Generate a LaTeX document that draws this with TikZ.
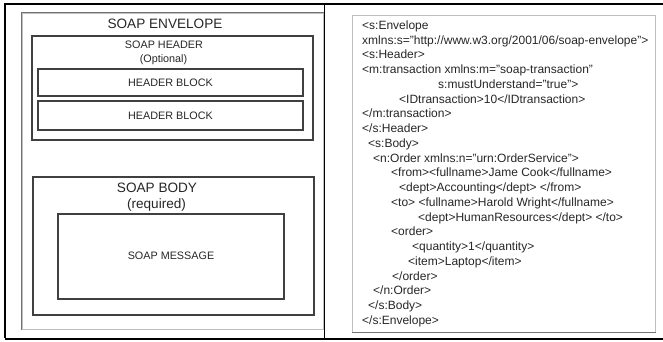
\documentclass[tikz,border=0pt]{standalone}
\usepackage{fontspec}
\setmainfont{Liberation Sans}

\definecolor{boxline}{rgb}{0.25,0.25,0.25}
\definecolor{paneldark}{rgb}{0.45,0.45,0.45}
\definecolor{panellight}{rgb}{0.75,0.75,0.75}
\definecolor{inktext}{rgb}{0.15,0.15,0.15}

\tikzset{
  panel/.style={draw=panellight,line width=1pt,inner sep=0pt},
  block/.style={draw=boxline,line width=1.4pt,inner sep=0pt},
  bigtxt/.style={text=inktext,inner sep=0pt,font=\fontsize{13.6}{15}\selectfont},
  smalltxt/.style={text=inktext,inner sep=0pt,font=\fontsize{10.8}{12}\selectfont}
}

\begin{document}
\begin{tikzpicture}[x=1pt,y=-1pt]
\useasboundingbox (0,0) rectangle (663,341);

% outer frame of the two cells
\draw [line width=2pt] (5,338) -- (5,4) -- (663,4);
\draw [line width=2pt] (5,339) -- (663,339);
\draw [line width=1pt] (324,4) -- (324,338);

% left cell: message structure
\node [panel,minimum width=301pt,minimum height=316pt] (envelope) at (172.5,171) {};
\draw [paneldark,line width=1pt] (envelope.south west) -- (envelope.north west) -- (envelope.north east);
\node [bigtxt] (envtitle) at (165,24) {SOAP ENVELOPE};

\node [block,minimum width=281pt,minimum height=104pt] (header) at (172.5,88) {};
\node [smalltxt] (hdrtitle) at (164,45) {SOAP HEADER};
\node [smalltxt] (hdrnote) at (163.5,60) {(Optional)};
\node [block,minimum width=265pt,minimum height=27pt] (hblock1) at (170.5,82.5) {};
\node [smalltxt] at (hblock1) {HEADER BLOCK};
\node [block,minimum width=265pt,minimum height=29pt] (hblock2) at (170.5,115.5) {};
\node [smalltxt] at (hblock2) {HEADER BLOCK};

\node [block,minimum width=281pt,minimum height=138pt] (body) at (173.5,246) {};
\node [bigtxt] (bodytitle) at (157,188) {SOAP BODY};
\node [bigtxt] (bodynote) at (156.5,205) {(required)};
\node [block,minimum width=226pt,minimum height=85pt] (message) at (171,256.5) {};
\node [smalltxt] (msgtxt) at (171,256) {SOAP MESSAGE};

% right cell: the xml listing
\node [panel,minimum width=303pt,minimum height=317pt] (xmlbox) at (503.5,173.5) {};
\draw [paneldark,line width=1pt] (xmlbox.south west) -- (xmlbox.south east);
\node [anchor=north west,inner sep=0pt,align=left,text=inktext,
       font=\fontsize{12}{14.75}\selectfont] (xml) at (362,20.5) {%
<s:Envelope\\
xmlns:s="http://www.w3.org/2001/06/soap-envelope">\\
<s:Header>\\
<m:transaction xmlns:m="soap-transaction"\\
\hspace*{76pt}s:mustUnderstand="true">\\
\hspace*{37pt}<IDtransaction>10</IDtransaction>\\
</m:transaction>\\
</s:Header>\\
\hspace*{6pt}<s:Body>\\
\hspace*{11pt}<n:Order xmlns:n="urn:OrderService">\\
\hspace*{29pt}<from><fullname>Jame Cook</fullname>\\
\hspace*{37pt}<dept>Accounting</dept> </from>\\
\hspace*{29pt}<to> <fullname>Harold Wright</fullname>\\
\hspace*{56pt}<dept>HumanResources</dept> </to>\\
\hspace*{29pt}<order>\\
\hspace*{50pt}<quantity>1</quantity>\\
\hspace*{46pt}<item>Laptop</item>\\
\hspace*{30pt}</order>\\
\hspace*{11pt}</n:Order>\\
\hspace*{6pt}</s:Body>\\
</s:Envelope>};
\end{tikzpicture}
\end{document}
